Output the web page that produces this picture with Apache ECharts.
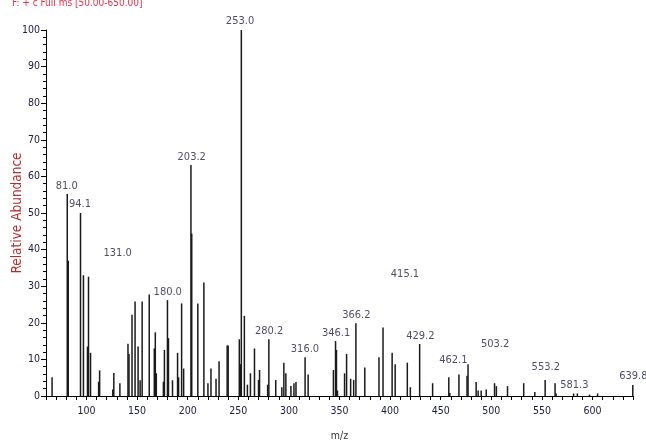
<!DOCTYPE html>
<html>
<head>
<meta charset="utf-8">
<script src="https://cdn.jsdelivr.net/npm/echarts@6/dist/echarts.min.js"></script>
<style>
html,body{margin:0;padding:0;background:#fff;}
#chart{width:646px;height:443px;}
</style>
</head>
<body>
<div id="chart"></div>
<script>
// Peak m/z values and relative abundances
const peakMz = [66, 81.0, 82, 94.1, 97, 101, 102, 104, 112, 113, 126, 127, 133,
  141, 142, 145, 148, 151, 153, 155, 162, 167, 168, 169, 176, 177, 180.0, 181, 185,
  190, 191, 194, 196, 203.2, 204, 210, 216, 220, 223, 228, 231, 239, 240, 251, 252,
  253.0, 256, 259, 262, 266, 270, 271, 279, 280.2, 287, 293, 295, 297, 302, 305, 307,
  316.0, 319, 344, 346.1, 347, 348, 355, 357, 361, 364, 366.2, 375, 389, 393, 402,
  405, 417, 420, 429.2, 442, 458, 459, 468, 476, 477, 485, 487, 490, 495, 503.2,
  505, 516, 532, 543, 553.2, 563, 564, 581.3, 585, 597, 605, 639.8];
const peakAbundance = [5.1, 55.2, 37, 50, 33, 13.5, 32.6, 11.8, 3.9, 7.0, 1.8, 6.3, 3.5,
  14.3, 11.5, 22.2, 25.8, 13.5, 4.3, 25.8, 27.7, 13, 17.4, 6.2, 3.9, 12.6, 26.2, 15.8, 4.3,
  11.8, 5.1, 25.3, 7.5, 63.1, 44.4, 25.3, 31, 3.5, 7.5, 4.7, 9.5, 13.8, 13.8, 15.5, 8.7,
  100, 21.9, 3.1, 6.2, 13, 4.4, 7.1, 3.1, 15.5, 4.4, 2.4, 9.1, 6.2, 2.7, 3.5, 3.8,
  10.6, 5.9, 7.1, 15, 12.6, 1.5, 6.2, 11.5, 4.7, 4.4, 19.9, 7.8, 10.6, 18.7, 11.8,
  8.7, 9.1, 2.4, 14.2, 3.5, 5.1, 0.8, 5.9, 5.5, 8.7, 3.8, 1.5, 1.5, 1.8, 3.5,
  2.7, 2.7, 3.5, 1.1, 4.4, 3.5, 0.7, 0.7, 0.7, 0.4, 0.7, 3.0];

// Peak annotations: text, anchor m/z, anchor abundance
const labelText = ['253.0', '81.0', '94.1', '131.0', '203.2', '180.0', '280.2', '316.0',
  '346.1', '366.2', '415.1', '429.2', '462.1', '503.2', '553.2', '581.3', '639.8'];
const labelMz = [251.7, 80.5, 93.6, 130.8, 204.0, 180.3, 280.4, 315.9,
  346.6, 366.6, 414.7, 429.9, 462.5, 503.7, 553.8, 582.0, 640.3];
const labelAbundance = [102.3, 57.4, 52.4, 39.0, 65.2, 28.3, 17.8, 12.8,
  17.1, 22.2, 33.3, 16.3, 9.7, 14.1, 8.0, 3.0, 5.3];

const xTickLabels = [100, 150, 200, 250, 300, 350, 400, 450, 500, 550, 600];

// pick a narrow font if one is installed
function pickFont() {
  const c = document.createElement('canvas').getContext('2d');
  const cands = ["'Liberation Sans Narrow'", "'Arial Narrow'", "'DejaVu Sans Condensed'", "'Liberation Sans'"];
  for (const f of cands) {
    c.font = '40px ' + f + ', monospace';
    const w1 = c.measureText('253.0 Abundance').width;
    c.font = '40px monospace';
    const w2 = c.measureText('253.0 Abundance').width;
    if (Math.abs(w1 - w2) > 0.5) return f;
  }
  return 'sans-serif';
}
const FONT = pickFont();
const NARROW = FONT.indexOf('Narrow') >= 0;
const labelSize = NARROW ? 12 : 11;
const axisSize = NARROW ? 12 : 10.5;

const chart = echarts.init(document.getElementById('chart'), null, {renderer: 'canvas'});
chart.setOption({
  animation: false,
  backgroundColor: '#fff',
  grid: {left: 46, right: 13, top: 30, bottom: 47, containLabel: false, outerBoundsMode: 'none'},
  graphic: [{
    type: 'text', left: 12, top: -2,
    style: {
      text: 'F: + c Full ms [50.00-650.00]',
      fill: '#e0304a', font: "10px " + FONT
    }
  }],
  xAxis: {
    type: 'value', min: 60, max: 640, interval: 10,
    name: 'm/z', nameLocation: 'middle', nameGap: 35, nameMoveOverlap: false,
    nameTextStyle: {color: '#333', fontSize: axisSize, fontFamily: FONT},
    axisLine: {show: true, lineStyle: {color: '#000', width: 1}},
    axisTick: {show: true, length: 4, lineStyle: {color: '#000'}},
    axisLabel: {
      color: '#202044', fontSize: axisSize, fontFamily: FONT, margin: 10,
      formatter: v => xTickLabels.indexOf(v) >= 0 ? String(v) : ''
    },
    splitLine: {show: false}
  },
  yAxis: {
    type: 'value', min: 0, max: 100, interval: 10,
    name: 'Relative Abundance', nameLocation: 'middle', nameGap: 22, nameMoveOverlap: false,
    nameRotate: 90,
    nameTextStyle: {color: '#b03030', fontSize: 13.5, fontFamily: FONT},
    axisLine: {show: true, lineStyle: {color: '#000', width: 1}},
    axisTick: {show: true, length: 5, lineStyle: {color: '#000'}},
    minorTick: {show: true, splitNumber: 5, length: 3, lineStyle: {color: '#000'}},
    axisLabel: {color: '#202044', fontSize: axisSize, fontFamily: FONT, margin: 6},
    splitLine: {show: false}
  },
  series: [{
    type: 'bar',
    data: peakMz.map((m, i) => [m, peakAbundance[i]]),
    barWidth: 1.5,
    itemStyle: {color: '#1a1a1a'},
    silent: true
  }, {
    type: 'scatter',
    clip: false,
    symbolSize: 0,
    silent: true,
    data: labelMz.map((m, i) => ({value: [m, labelAbundance[i]], name: labelText[i]})),
    label: {
      show: true, position: 'inside', formatter: p => p.name,
      color: '#202044', fontSize: labelSize, fontFamily: FONT
    }
  }]
});
</script>
</body>
</html>
